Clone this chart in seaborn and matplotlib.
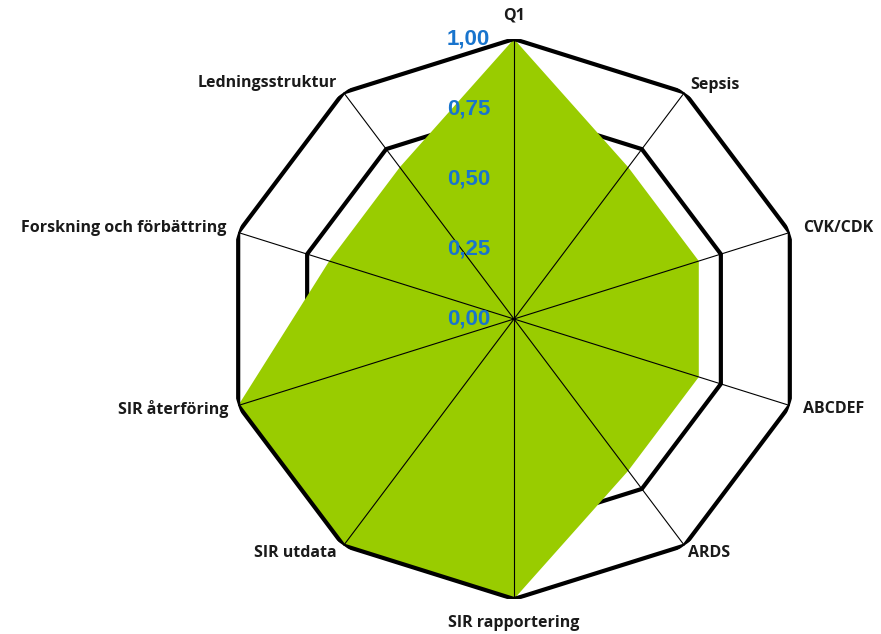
import numpy as np
import matplotlib
matplotlib.use("Agg")
import matplotlib.pyplot as plt
import seaborn as sns
import pandas as pd

categories = ["Q1", "Sepsis", "CVK/CDK", "ABCDEF", "ARDS", "SIR rapportering",
              "SIR utdata", "SIR återföring", "Forskning och förbättring", "Ledningsstruktur"]
values = [1.00, 0.67, 0.67, 0.67, 0.67, 1.00, 1.00, 1.00, 0.67, 0.67]
tick_values = [0.00, 0.25, 0.50, 0.75, 1.00]
tick_labels = ["0,00", "0,25", "0,50", "0,75", "1,00"]

sns.set_theme(style="white")
plt.rcParams["font.family"] = ["Open Sans", "DejaVu Sans"]

n = len(categories)
angles = np.arange(n) * 2 * np.pi / n
closed_angles = np.append(angles, 2 * np.pi)

fig = plt.figure(figsize=(8.81, 6.34), dpi=100)
W, H = 881, 634
cx, cy = 514, 319
rx, ry = 290, 280
ax = fig.add_axes([(cx - rx) / W, (H - cy - ry) / H, 2 * rx / W, 2 * ry / H],
                  projection="polar")
ax.set_aspect("auto")
ax.set_theta_zero_location("N")
ax.set_theta_direction(-1)
ax.set_ylim(0, 1)
ax.grid(False)
ax.spines["polar"].set_visible(False)
ax.set_xticks([])
ax.set_yticks([])
ax.patch.set_alpha(0)

# ring gridlines
for t in tick_values[1:]:
    ring = pd.DataFrame({"theta": closed_angles, "r": [t] * (n + 1)})
    sns.lineplot(data=ring, x="theta", y="r", sort=False, estimator=None,
                 color="black", linewidth=3.0, ax=ax,
                 zorder=4 if t == 1.0 else 1, solid_joinstyle="miter")

# filled series
closed_vals = np.append(values, values[0])
ax.fill(closed_angles, closed_vals, color="#99CC00", zorder=2, linewidth=0)

# spokes
for a in angles:
    ax.plot([a, a], [0, 1], color="black", linewidth=0.8, zorder=3)

ax.set_xlabel("")
ax.set_ylabel("")
ax.set_ylim(0, 1)

# tick labels
for v, lab in zip(tick_values, tick_labels):
    ax.annotate(lab, xy=(0, v), xytext=(-24, 0), textcoords="offset pixels",
                ha="right", va="center", fontsize=16, fontweight="bold",
                color="#1874CD", family=["Liberation Sans", "DejaVu Sans"], zorder=5)

# category labels
offsets = [(0, 24, "center"), (6, 7, "left"), (13, 4, "left"), (13, -3, "left"),
           (4, -7, "left"), (0, -24, "center"), (-7, -7, "right"), (-10, -3, "right"),
           (-12, 4, "right"), (-7, 9, "right")]
for a, lab, (dx, dy, ha) in zip(angles, categories, offsets):
    ax.annotate(lab, xy=(a, 1), xytext=(dx, dy), textcoords="offset pixels",
                ha=ha, va="center", fontsize=11.5, fontweight="bold", color="#1a1a1a",
                annotation_clip=False)

fig.savefig("out.png", dpi=100)
